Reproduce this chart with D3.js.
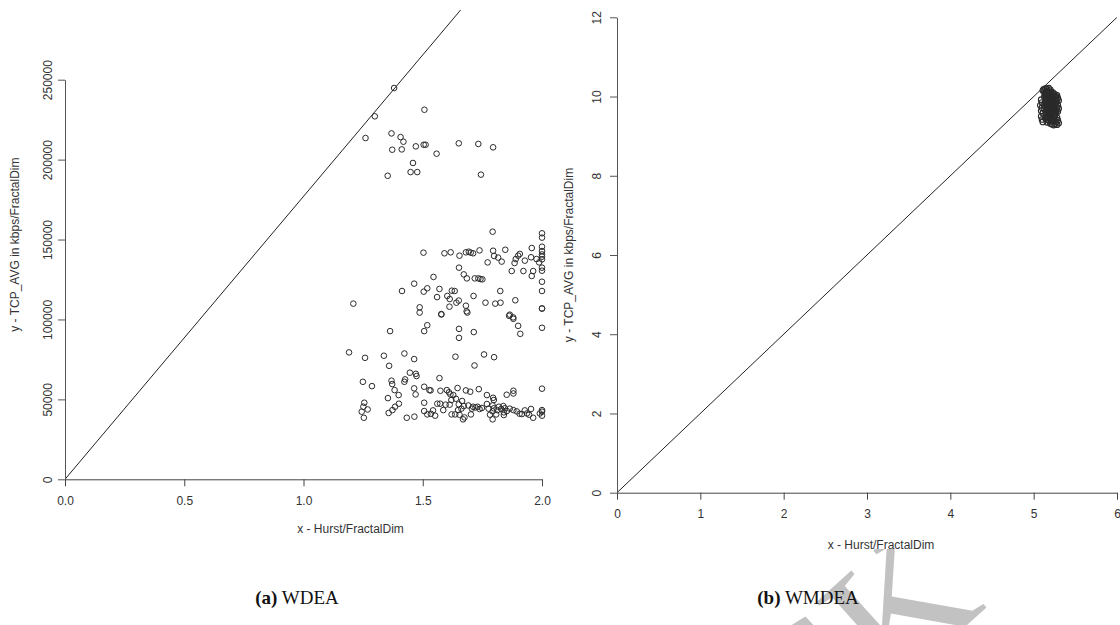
<!DOCTYPE html>
<html>
<head>
<meta charset="utf-8">
<title>WDEA / WMDEA</title>
<script src="https://d3js.org/d3.v7.min.js"></script>
<style>
body { margin: 0; background: white; }
svg { display: block; font-family: "Liberation Sans", Arial, sans-serif; }
.tick text { fill: #333; font-size: 12px; }
.cap { font-family: "Liberation Serif", "Times New Roman", serif; font-size: 19px; fill: #111; }
</style>
</head>
<body>
<script>
// panel (a) WDEA : points
var wdeaX = [1.380,1.507,1.299,1.260,1.369,1.407,1.419,1.372,1.412,1.471,1.504,1.512,1.558,1.651,1.733,1.795,1.459,1.449,1.477,1.353,1.744,
  1.793,2.0,2.0,1.503,1.591,1.617,1.654,1.681,1.693,1.701,1.711,1.738,1.795,1.846,1.799,1.816,1.772,1.831,1.900,1.907,1.890,1.885,1.928,1.957,1.954,1.977,1.988,
  2.0,2.0,2.0,2.0,2.0,2.0,2.0,2.0,2.0,2.0,1.963,1.957,1.922,1.873,1.652,1.672,1.685,1.718,1.733,1.742,1.750,1.545,1.464,1.504,1.519,1.570,1.622,1.634,1.413,
  1.560,1.603,1.613,1.651,1.641,1.713,1.825,1.888,1.763,1.804,1.826,1.681,1.612,1.487,1.209,1.487,1.578,1.687,1.684,1.865,1.879,
  1.519,1.506,1.363,1.652,1.652,1.714,1.862,1.880,1.900,1.909,2.0,2.0,1.578,1.191,1.258,1.337,1.423,1.464,1.359,1.637,1.717,1.757,1.799,
  1.249,1.287,1.369,1.372,1.382,1.399,1.354,1.423,1.426,1.446,1.471,1.474,1.464,1.470,1.570,1.506,1.528,1.533,1.574,1.601,1.610,1.616,1.646,1.628,1.681,1.699,1.735,1.769,1.795,1.798,1.852,1.880,1.880,2.0,
  1.255,1.251,1.269,1.244,1.253,1.357,1.373,1.384,1.400,1.433,1.465,1.506,1.506,1.519,1.534,1.543,1.552,1.561,1.573,1.586,1.596,1.613,1.620,1.621,1.639,1.651,1.648,1.636,1.654,1.665,1.672,1.662,1.669,1.675,1.702,
  1.691,1.711,1.706,1.721,1.730,1.738,1.748,1.769,1.776,1.782,1.793,1.798,1.793,1.793,1.808,1.813,1.819,1.829,1.838,1.840,1.840,1.844,1.853,1.865,1.880,1.894,1.906,1.916,1.928,1.937,1.946,1.954,1.963,1.991,2.0,2.0,2.0];
var wdeaY = [244800,231200,227100,213500,216400,214100,211200,206200,206400,208300,209300,209300,203700,210200,209800,207700,197900,192200,192200,189900,190600,
  154900,153900,151200,141800,141400,142000,139900,142000,142400,141800,141400,143200,143000,143600,139700,138700,135700,136200,139900,141000,137800,135300,136800,144700,138900,137800,135700,
  145500,142800,140700,139300,137600,132400,130500,123600,117800,106800,130300,127200,130300,130300,132400,128200,125700,125700,125700,125300,125100,126600,122400,117400,119500,119100,118000,117800,117800,
  114000,114700,112800,111800,110500,114700,117800,112000,110500,109900,110500,108600,108000,107600,109900,104300,103400,104300,105100,103000,101300,
  96400,92700,92700,94100,88500,92100,102300,100400,96000,91000,94800,106900,103100,79400,76000,77300,78700,75200,71000,76700,71200,78100,76400,
  61000,58300,61700,59600,55800,52700,50800,61000,62500,66700,66000,64600,56900,53100,63300,57900,55800,55600,55400,55800,54400,53100,57100,52700,55600,54800,56400,52700,51000,49600,52900,55400,53700,56700,
  47900,45400,43700,42300,38500,41500,43300,45400,47300,38500,39200,47900,42700,40600,41000,43100,39800,47300,47300,43300,46700,46700,49600,40600,50400,46900,43300,40600,40400,49000,45800,44200,37500,38700,40600,
  46200,45400,44200,45000,45400,44000,44600,47100,44200,40400,46200,44400,42500,37500,40600,43300,45400,44000,45800,41900,40200,44400,42700,44200,43300,42500,41000,40800,43100,41200,40400,44000,38500,41200,43300,42300,39800];
var wdeaXTicks = [0, 0.5, 1.0, 1.5, 2.0];
var wdeaYTicks = [0, 50000, 100000, 150000, 200000, 250000];
var wdeaSlope = 177000;

// panel (b) WMDEA : dense cluster near (5.2, 9.7)
var wmdeaX = [5.12,5.14,5.16,5.18,5.20,5.13,5.15,5.17,5.19,5.21,5.23,5.14,5.16,5.18,5.20,5.22,5.24,5.26,5.28,5.11,5.13,5.17,5.21,5.15,
  5.27,5.29,5.26,5.28,5.30,5.25,5.27,5.29,5.24,5.26,5.28,5.30,5.23,5.25,5.27,5.29,5.22,5.24,5.21,5.19,5.22,5.20,5.18,5.21,
  5.09,5.10,5.08,5.10,5.09,5.11,5.09,5.10,5.11,5.12,5.13,5.14,
  5.15,5.17,5.19,5.21,5.23,5.25,5.16,5.18,5.20,5.22,5.24,5.26,5.28,5.17,5.19,5.21,5.23,5.25,5.27,5.29,5.20,5.22,5.24,5.26,5.28,5.14,5.16,5.13,5.30,5.18,5.15,
  5.15,5.17,5.19,5.21,5.23,5.16,5.18,5.20,5.22,5.24,5.15,5.17,5.19,5.23,5.25,5.16,5.18,5.20,5.22,5.17,5.19,5.21,5.23,5.25,5.27,5.18,5.20,5.22,5.24,5.26,
  5.14,5.16,5.18,5.20,5.13,5.15,5.17,5.19,5.21,5.23,5.25,5.27];
var wmdeaY = [10.18,10.20,10.19,10.21,10.17,10.12,10.10,10.14,10.08,10.12,10.10,10.05,10.03,10.06,10.02,10.04,10.07,10.05,10.03,10.15,9.98,9.97,9.96,9.94,
  10.00,9.96,9.92,9.88,9.90,9.85,9.82,9.78,9.79,9.75,9.72,9.70,9.72,9.68,9.64,9.62,9.66,9.61,9.88,9.84,9.80,9.76,9.72,9.70,
  9.92,9.85,9.78,9.72,9.64,9.58,9.50,9.42,9.36,9.80,9.68,9.88,
  9.58,9.55,9.57,9.54,9.56,9.53,9.50,9.47,9.49,9.46,9.48,9.45,9.47,9.41,9.38,9.40,9.37,9.39,9.36,9.40,9.32,9.30,9.28,9.31,9.29,9.45,9.35,9.52,9.33,9.62,9.65,
  9.92,9.90,9.93,9.91,9.89,9.85,9.86,9.84,9.87,9.83,9.80,9.78,9.79,9.77,9.74,9.73,9.71,9.74,9.72,9.66,9.68,9.65,9.67,9.64,9.60,9.60,9.62,9.59,9.57,9.55,
  10.09,10.07,10.11,10.09,10.02,10.00,10.01,9.99,10.00,9.98,9.99,9.95];
var wmdeaXTicks = [0, 1, 2, 3, 4, 5, 6];
var wmdeaYTicks = [0, 2, 4, 6, 8, 10, 12];
var wmdeaSlope = 2;

var width = 1120, height = 625;
var svg = d3.select("body").append("svg").attr("width", width).attr("height", height);

// watermark showing through below the right figure
var wm = svg.append("g");
svg.append("clipPath").attr("id", "wmclip").append("rect")
  .attr("x", 560).attr("y", 549).attr("width", 560).attr("height", 80);
wm.attr("clip-path", "url(#wmclip)")
  .append("text")
  .attr("transform", "translate(895,690) rotate(-42)")
  .attr("text-anchor", "middle")
  .style("font-family", "Liberation Serif, serif")
  .style("font-size", "180px")
  .style("fill", "#c2c2c2")
  .text("CK");

function panel(id, xs, ys, xDom, xRange, yDom, yRange, topPx, xTicks, yTicks, xFmt, slope, o) {
  var x = d3.scaleLinear().domain(xDom).range(xRange);
  var y = d3.scaleLinear().domain(yDom).range(yRange);
  var g = svg.append("g");

  svg.append("clipPath").attr("id", id).append("rect")
    .attr("x", xRange[0]).attr("y", topPx)
    .attr("width", xRange[1] - xRange[0]).attr("height", yRange[0] - topPx);

  // abline through origin
  var yTop = y.invert(topPx);
  var xEnd = Math.min(xDom[1], yTop / slope);
  g.append("line")
    .attr("clip-path", "url(#" + id + ")")
    .attr("x1", x(0)).attr("y1", y(0))
    .attr("x2", x(xEnd)).attr("y2", y(slope * xEnd))
    .attr("stroke", "#222").attr("stroke-width", 1);

  var ax = g.append("g").attr("transform", "translate(0," + yRange[0] + ")")
    .call(d3.axisBottom(x).tickValues(xTicks).tickFormat(xFmt).tickSize(7).tickSizeOuter(0).tickPadding(8));
  ax.selectAll("path,line").attr("stroke", "#444");
  ax.selectAll("text").attr("dy", "0.9em");

  var ay = g.append("g").attr("transform", "translate(" + xRange[0] + ",0)")
    .call(d3.axisLeft(y).tickValues(yTicks).tickFormat(d3.format("d")).tickSize(7).tickSizeOuter(0));
  ay.selectAll("path,line").attr("stroke", "#555");
  ay.selectAll("text")
    .attr("x", null).attr("dy", "0.35em")
    .attr("text-anchor", "middle")
    .attr("transform", "translate(" + (-o.ylab) + ",0) rotate(-90)");

  g.selectAll("circle").data(xs).enter().append("circle")
    .attr("cx", function(d) { return x(d); })
    .attr("cy", function(d, i) { return y(ys[i]); })
    .attr("r", 2.8)
    .attr("fill", "none")
    .attr("stroke", "#2b2b2b")
    .attr("stroke-width", o.sw);

  g.append("text")
    .attr("x", (xRange[0] + xRange[1]) / 2 + o.xtShift).attr("y", o.xtY)
    .attr("text-anchor", "middle").style("font-size", "12px").style("fill", "#333")
    .text("x - Hurst/FractalDim");
  g.append("text")
    .attr("transform", "translate(" + o.ytX + "," + ((topPx + yRange[0]) / 2) + ") rotate(-90)")
    .attr("dy", "0.35em")
    .attr("text-anchor", "middle").style("font-size", "12px").style("fill", "#333")
    .text("y - TCP_AVG in kbps/FractalDim");
}

panel("clipA", wdeaX, wdeaY, [0, 2], [65, 542], [0, 250000], [479.3, 79.7], 10,
  wdeaXTicks, wdeaYTicks, d3.format(".1f"), wdeaSlope, {ylab: 17, xtY: 533, xtShift: 47, ytX: 15, sw: 1});
panel("clipB", wmdeaX, wmdeaY, [0, 6], [617, 1117], [0, 12], [492.7, 17.3], 17.3,
  wmdeaXTicks, wmdeaYTicks, d3.format("d"), wmdeaSlope, {ylab: 20, xtY: 549, xtShift: 14, ytX: 569, sw: 1.1});

// sub-figure captions
var caps = [{x: 297, b: "(a)", t: " WDEA"}, {x: 808, b: "(b)", t: " WMDEA"}];
caps.forEach(function(c) {
  var t = svg.append("text").attr("class", "cap").attr("x", c.x).attr("y", 604).attr("text-anchor", "middle");
  t.append("tspan").style("font-weight", "bold").text(c.b);
  t.append("tspan").text(c.t);
});
</script>
</body>
</html>
